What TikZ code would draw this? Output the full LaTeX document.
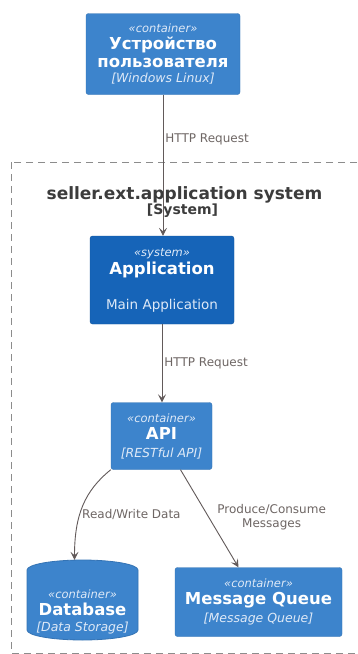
\documentclass[tikz,border=0pt]{standalone}
\usepackage{fontspec}
\setmainfont{DejaVu Sans}
\usetikzlibrary{arrows.meta}

\definecolor{containerColor}{RGB}{ 61, 132, 204}
\definecolor   {systemColor}{RGB}{ 22, 100, 184}
\definecolor   {borderColor}{RGB}{ 52, 115, 180}
\definecolor {relationColor}{RGB}{ 98,  90,  90}
\definecolor    {labelColor}{RGB}{110, 102, 100}
\definecolor {boundaryColor}{RGB}{140, 140, 140}
\definecolor    {titleColor}{RGB}{ 60,  60,  60}
\definecolor   {subtleWhite}{RGB}{222, 233, 247}

\newcommand*\stereoFont{\fontsize{11.5}{17}\selectfont\itshape\color{subtleWhite}}
\newcommand*\nameFont  {\fontsize{16.5}{17}\selectfont\bfseries}
\newcommand*\techFont  {\fontsize{12.5}{17}\selectfont\itshape\color{subtleWhite}}
\newcommand*\descFont  {\fontsize{13.5}{17}\selectfont\color{subtleWhite}}

\tikzset{
  c4 container/.style={rectangle, rounded corners=2.5pt, draw=borderColor,
                       fill=containerColor, text=white, align=center, inner sep=0pt,
                       font=\fontsize{12}{17}\selectfont},
  c4 system/.style   ={c4 container, fill=systemColor, draw=systemColor!85!black},
  c4 database/.style ={c4 container, draw=none, fill=none},
  c4 rel/.style      ={draw=relationColor, line width=0.9pt,
                       -{Stealth[length=8pt, width=8pt, inset=3.5pt]}},
  c4 label/.style    ={text=labelColor, font=\fontsize{12}{14}\selectfont, inner sep=2pt, align=center},
  c4 boundary/.style ={draw=boundaryColor, line width=0.9pt, dash pattern=on 7pt off 5pt},
}

\begin{document}
\begin{tikzpicture}[x=1pt, y=-1pt]
\clip (0,0) rectangle (357,654);
\fill[white] (0,0) rectangle (357,654);

%% system boundary
\draw[c4 boundary] (11,162) rectangle (359,653);
\node[text=titleColor, font=\fontsize{17}{18}\selectfont\bfseries] (bndTitle) at (184.5,195)
  {seller.ext.application system};
\node[text=titleColor, font=\fontsize{14}{15}\selectfont\bfseries] (bndType) at (182.5,211)
  {[System]};

%% database cylinder (drawn directly, text sits in the node below)
\filldraw[fill=containerColor, draw=borderColor, line width=0.8pt]
  (27,570) arc[start angle=180, end angle=360, x radius=55.5, y radius=10]
  -- (138,630) arc[start angle=0, end angle=180, x radius=55.5, y radius=10] -- cycle;

%% elements
\node[c4 container, minimum width=154, minimum height=81] (device) at (163,54)
  {{\stereoFont «container»}\\[0pt]{\nameFont Устройство}\\[1pt]{\nameFont пользователя}\\[-2pt]{\techFont [Windows Linux]}};
\node[c4 system, minimum width=144, minimum height=88] (app) at (162,280)
  {{\stereoFont «system»}\\[1pt]{\nameFont Application}\\[18pt]{\descFont Main Application}};
\node[c4 container, minimum width=101, minimum height=67] (api) at (161.5,436)
  {{\stereoFont «container»}\\[0pt]{\nameFont API}\\[1pt]{\techFont [RESTful API]}};
\node[c4 database, minimum width=111, minimum height=104] (db) at (82.5,612)
  {{\stereoFont «container»}\\[0pt]{\nameFont Database}\\[-1pt]{\techFont [Data Storage]}};
\node[c4 container, minimum width=167, minimum height=69] (mq) at (258.5,602)
  {{\stereoFont «container»}\\[0pt]{\nameFont Message Queue}\\[1pt]{\techFont [Message Queue]}};

%% relations
\draw[c4 rel] (device.south) -- node[c4 label, right, pos=.32] {HTTP Request} (device.south |- app.north);
\draw[c4 rel] (app.south) -- node[c4 label, right, pos=.5] {HTTP Request} (app.south |- api.north);
\draw[c4 rel] (api.south west) .. controls +(-26,21) and +(0,-45) .. ([xshift=-8pt]db.north)
  node[c4 label, anchor=west, pos=.6] {Read/Write Data};
\draw[c4 rel] ([xshift=19pt]api.south) -- node[c4 label, right=6pt, pos=.49] {Produce/Consume\\Messages}
  ([xshift=-20pt]mq.north);

\end{tikzpicture}
\end{document}
